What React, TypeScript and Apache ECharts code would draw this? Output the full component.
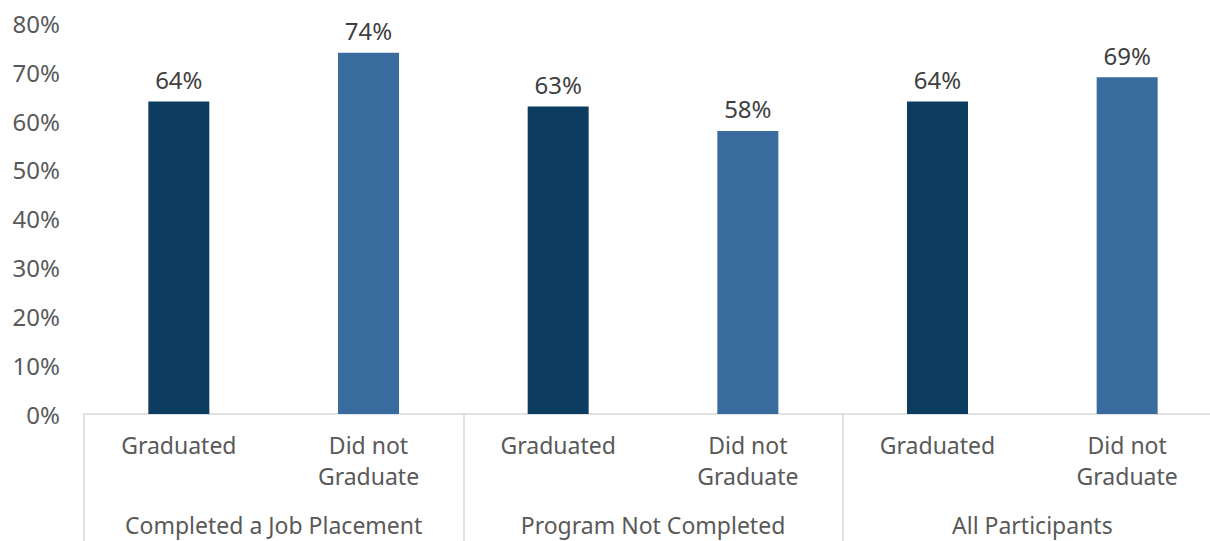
import React, { useEffect, useRef } from "react";
import * as echarts from "echarts";

const categories = ["Graduated", "Did not\nGraduate", "Graduated", "Did not\nGraduate", "Graduated", "Did not\nGraduate"];
const groups = ["Completed a Job Placement", "Program Not Completed", "All Participants"];
const values = [64, 74, 63, 58, 64, 69];
const barColors = ["#0d3c61", "#3a6b9e", "#0d3c61", "#3a6b9e", "#0d3c61", "#3a6b9e"];
const yTicks = [0, 10, 20, 30, 40, 50, 60, 70, 80];

export default function App() {
  const ref = useRef<HTMLDivElement>(null);
  useEffect(() => {
    if (!ref.current) return;
    const chart = echarts.init(ref.current, null, { renderer: "svg" });
    const font = "Noto Sans";
    chart.setOption({
      animation: false,
      backgroundColor: "#ffffff",
      grid: { left: 84, width: 1138, top: 23.5, bottom: 127, outerBoundsMode: "none", containLabel: false },
      xAxis: [
        {
          type: "category",
          data: categories,
          position: "bottom",
          axisLine: { show: true, lineStyle: { color: "#d9d9d9", width: 1.5 } },
          axisTick: { show: false },
          axisLabel: {
            interval: 0,
            margin: 15,
            fontFamily: font,
            fontSize: 23,
            color: "#595959",
            lineHeight: 31,
            verticalAlign: "top",
          },
        },
        {
          type: "category",
          data: groups,
          position: "bottom",
          axisLine: { show: false },
          axisTick: { show: true, interval: 0, alignWithLabel: false, length: 127, lineStyle: { color: "#d9d9d9", width: 1.5 } },
          axisLabel: {
            interval: 0,
            margin: 95.5,
            fontFamily: font,
            fontSize: 23,
            color: "#595959",
            lineHeight: 31,
            verticalAlign: "top",
          },
        },
      ],
      yAxis: {
        type: "value",
        min: yTicks[0],
        max: yTicks[yTicks.length - 1],
        interval: 10,
        axisLine: { show: false },
        axisTick: { show: false },
        splitLine: { show: false },
        axisLabel: {
          formatter: "{value}%",
          margin: 24,
          fontFamily: font,
          fontSize: 24,
          color: "#595959",
        },
      },
      series: [
        {
          type: "bar",
          xAxisIndex: 0,
          barWidth: 61,
          data: values.map((v, i) => ({ value: v, itemStyle: { color: barColors[i] } })),
          label: {
            show: true,
            position: "top",
            distance: 10,
            formatter: "{c}%",
            fontFamily: font,
            fontSize: 24,
            color: "#404040",
          },
        },
      ],
    });
    return () => chart.dispose();
  }, []);
  return (
    <div
      ref={ref}
      style={{ position: "absolute", left: 0, top: 0, width: 1210, height: 541 }}
    />
  );
}
